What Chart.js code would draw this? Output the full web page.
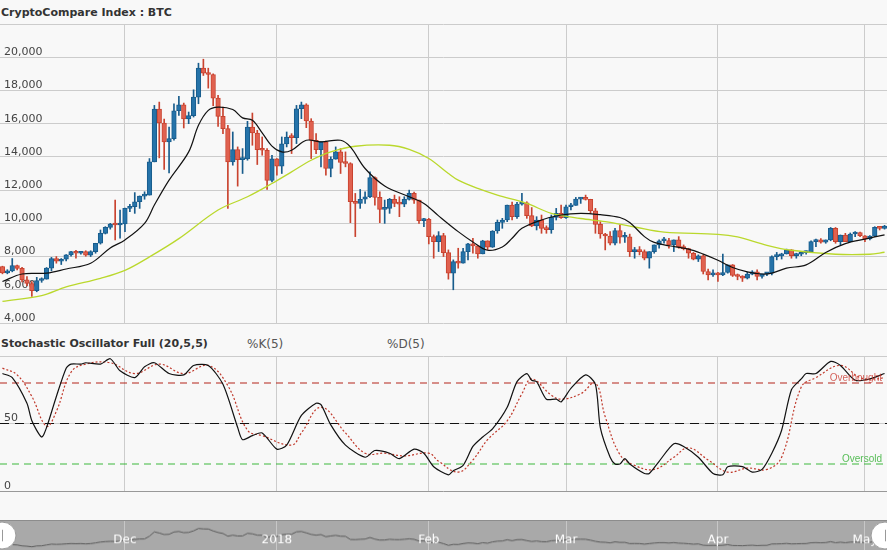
<!DOCTYPE html>
<html>
<head>
<meta charset="utf-8">
<script src="https://cdn.jsdelivr.net/npm/chart.js@4.4.1/dist/chart.umd.min.js"></script>
<style>
  html, body { margin: 0; padding: 0; }
  body { width: 887px; height: 550px; overflow: hidden; background: #f8f8f8; position: relative;
         font-family: 'DejaVu Sans', Verdana, sans-serif; }
  .title { position: absolute; left: 1px; font-size: 11px; font-weight: bold; color: #333; line-height: 14px; white-space: nowrap; }
  .legend { position: absolute; font-size: 12px; color: #555; line-height: 14px; white-space: nowrap; }
  canvas { position: absolute; left: 0; }
  #price { top: 20px; }
  #stoch { top: 350px; }
  #nav { top: 520px; border-top: 1px solid #8c8c8c; background: #a9a9a9; }
</style>
</head>
<body>
<div class="title" style="top:6px">CryptoCompare Index : BTC</div>
<div class="title" style="top:337px">Stochastic Oscillator Full (20,5,5)</div>
<div class="legend" style="top:337px; left:247px">%K(5)</div>
<div class="legend" style="top:337px; left:387px">%D(5)</div>
<canvas id="price" width="887" height="308"></canvas>
<canvas id="stoch" width="887" height="146"></canvas>
<canvas id="nav" width="887" height="30"></canvas>
<script>
// daily BTC candles, 2017-11-06 .. 2018-05-05 (day index 0..180)
const opens = [7400,7020,7140,7460,7290,6600,6380,5950,6560,6640,7300,7880,7720,7840,8100,8300,8200,8300,8080,8300,8800,9400,9760,9960,9900,
  9960,10900,11000,11300,11640,11700,13700,16880,16040,14900,15100,16780,17140,16280,16480,17600,19340,19040,18960,17540,16440,15700,13700,14440,13840,13880,15800,15440,14440,14400,12580,
  13880,13440,14780,15200,15160,16900,17140,16160,15000,14440,14900,13300,13860,14300,13660,13600,11300,11200,11450,11600,12760,11560,10840,10900,11440,11200,11160,11440,11800,11400,10160,
  10240,9200,8900,9260,8240,7000,7700,7600,8300,8760,8640,8160,8940,8560,9540,10060,10200,11100,10400,11160,11240,10460,9840,10200,9700,9620,10360,10600,
  10340,11000,11080,11460,11500,11440,10760,9940,9360,9240,8800,9560,9160,9180,8300,8340,8300,7900,8300,8700,8940,8960,8700,9000,8600,8480,8200,7840,8040,7100,6900,
  7000,6900,7040,7500,6860,6800,6700,6940,7080,6800,6960,7000,8000,8040,8160,8400,8060,8140,8240,8300,8900,9000,8860,9000,9700,8900,9300,8900,9360,9440,
  9250,9060,9230,9760,9700];
const highs = [7420,7210,7880,7480,7350,6800,6500,6750,6720,7340,7950,8000,7880,8120,8320,8380,8320,8350,8350,8800,9600,9800,10000,11400,10800,
  10920,11150,11850,11650,11900,13900,17100,17300,16280,15800,17200,17640,17240,16700,18040,19640,19880,19340,19000,17700,17000,15900,15500,14600,14500,16140,16640,15600,15200,14500,14100,
  13900,15200,15500,15400,17100,17300,17200,16300,15400,14900,14950,14000,14600,14500,14300,13650,11800,12040,11900,13100,12800,11900,11400,11500,11700,11600,11600,12000,11880,11400,10300,
  10300,9300,9500,9400,8400,7800,8500,8500,8800,9100,8650,8980,8950,9560,10200,10300,11100,11280,11260,11800,11300,10950,10400,10500,9850,10500,10900,11100,
  11100,11200,11560,11560,11700,11450,10900,10100,9400,9500,9700,9900,9450,9350,8550,8600,8400,8300,8700,9000,9150,9100,9000,9200,8700,8500,8250,8100,8100,7250,7200,
  7050,8150,7500,7520,6950,6850,7050,7150,7200,6950,7050,8050,8250,8200,8450,8420,8200,8250,8350,8950,9050,9080,9000,9750,9750,9300,9400,9420,9500,9480,
  9260,9260,9800,9800,9880];
const lows = [6960,6960,7080,7200,6480,6250,5600,5880,6450,6640,7140,7600,7520,7740,8030,7900,8150,8020,8000,8200,8750,9360,9650,9000,9100,
  9500,10700,10600,10900,11450,11700,13700,13940,13240,13040,15000,16500,15740,16000,16400,17200,18900,18140,17080,15840,15400,10900,13500,12240,13000,13800,14700,13540,14100,12040,12500,
  12900,13000,14600,14200,14800,16300,15760,13900,14200,13400,12900,12800,13860,13000,13400,10040,9200,10900,11200,11550,11100,10040,10000,10600,11000,10400,11000,11400,11200,10000,9800,
  8760,7900,8300,8000,6640,6000,7300,7600,7800,8200,7900,8160,8400,8550,9400,9700,10100,10200,10300,11100,10300,9800,9600,9400,9400,9400,10200,10300,
  10300,10800,11080,11200,11400,10600,9400,9100,8400,8700,8700,8800,8850,8000,7900,8100,7800,7300,8200,8500,8800,8500,8300,8500,8400,7900,7800,7700,6950,6600,6800,
  6500,6850,7000,6800,6600,6500,6650,6900,6600,6700,6850,6900,7800,7850,8150,7900,7900,8050,8150,8250,8600,8800,8800,8950,8800,8700,8900,8880,9200,9200,
  8900,9000,9200,9600,9650];
const closes = [7020,7140,7460,7290,6600,6380,5950,6560,6640,7300,7880,7720,7840,8100,8300,8200,8300,8080,8300,8800,9400,9760,9960,9900,9960,
  10900,11000,11300,11640,11700,13700,16880,16040,14900,15100,16780,17140,16280,16480,17600,19340,19040,18960,17540,16440,15700,13700,14440,13840,13880,15800,15440,14440,14400,12580,13880,
  13440,14780,15200,15160,16900,17140,16160,15000,14440,14900,13300,13860,14300,13660,13600,11300,11200,11450,11600,12760,11560,10840,10900,11440,11200,11160,11440,11800,11400,10160,10240,
  9200,8900,9260,8240,7000,7700,7600,8300,8760,8640,8160,8940,8560,9540,10060,10200,11100,10400,11160,11240,10460,9840,10200,9700,9620,10360,10600,10340,
  11000,11080,11460,11500,11440,10760,9940,9360,9240,8800,9560,9160,9180,8300,8340,8300,7900,8300,8700,8940,8960,8700,9000,8600,8480,8200,7840,8040,7100,6900,7000,
  6900,7040,7500,6860,6800,6700,6940,7080,6800,6960,7000,8000,8040,8160,8400,8060,8140,8240,8300,8900,9000,8860,9000,9700,8900,9300,8900,9360,9440,9250,
  9060,9230,9760,9700,9840];

// moving averages (day index, price)
const fastDays = [0,4,9,13,18,22,25,29,31,34,38,40,42,44,47,49,51,53,55,57,59,62,65,69,71,74,78,83,86,89,93,96,99,102,104,106,110,114,118,122,126,128,131,133,136,140,143,146,149,152,155,157,160,164,168,172,176,180];
const fastValues = [6500,6950,7000,7250,7600,8520,9000,10000,11100,12600,14300,15900,16800,17000,16850,16350,16200,15450,14650,14300,14400,15000,14900,15000,14600,13300,12250,11600,11200,10450,9500,8880,8380,8580,9100,9700,10200,10500,10600,10520,10350,10050,9200,8850,8650,8450,8150,7780,7340,7080,6950,7000,7300,7500,8250,8780,9050,9310];
const slowDays = [0,8,13,20,25,30,36,44,50,55,59,63,67,72,79,83,87,91,93,97,101,107,112,118,123,129,135,146,150,156,161,170,177,180];
const slowValues = [5300,5650,6170,6690,7170,7980,9080,10800,11600,12400,13100,13800,14300,14640,14700,14450,13900,13000,12600,12100,11700,11200,10600,10290,10100,9780,9470,9340,9180,8680,8380,8140,8140,8260];

// stochastic oscillator
const kDays = [0,2,5,6,8,9,11,13,14,16,17,20,22,24,27,29,31,34,37,39,42,45,48,49,51,53,56,58,61,64,65,67,70,74,76,79,81,84,86,88,91,92,94,96,98,100,103,105,107,108,109,111,113,114,116,119,121,122,124,125,126,127,128,131,132,134,137,139,142,145,147,148,151,153,155,157,159,161,163,164,166,169,171,174,177,180];
const kValues = [87,84,65,52,40,47,70,91,94,94,95,94,98,89,84,92,95,87,86,93,93,79,47,38,41,43,31,34,56,65,64,49,34,25,30,28,24,31,28,18,12,15,19,33,40,46,62,81,87,82,81,68,68,66,76,86,79,47,25,20,20,24,20,13,13,22,35,33,25,13,12,18,18,14,16,28,45,75,83,87,87,96,93,82,83,87];
const dDays = [0,3,6,9,11,14,17,22,27,32,37,42,46,50,53,59,61,65,70,74,78,82,87,89,93,96,99,103,106,108,112,114,118,121,123,126,129,133,137,140,144,148,152,156,159,163,166,171,175,178,180];
const dValues = [91,86,70,48,59,88,94,95,87,94,87,93,78,45,41,34,43,62,43,28,28,26,28,22,14,23,38,52,72,83,71,68,72,80,55,27,19,16,25,32,23,14,17,16,25,77,84,93,84,83,84];
const overbought = 80, midline = 50, oversold = 20;

const monthTicks = [25, 56, 87, 115, 146, 176];
const monthLabels = ['Dec', '2018', 'Feb', 'Mar', 'Apr', 'May'];
const xMin = -0.5, xMax = 180.5;

Chart.defaults.font.family = "'DejaVu Sans', Verdana, sans-serif";
Chart.defaults.font.size = 11;

const pts = (xs, ys) => xs.map((x, i) => ({ x: x, y: ys[i] }));
const dayIdx = closes.map((_, i) => i);
const isUp = i => closes[i] >= opens[i];
const monthGrid = scale => { scale.ticks = monthTicks.map(v => ({ value: v })); };
// keep axes from eating into the plot area
const flatAxis = scale => {
  scale.paddingLeft = scale.paddingRight = scale.paddingTop = scale.paddingBottom = 0;
  if (scale.isHorizontal()) scale.height = 0; else scale.width = 0;
};
const timeAxis = (gridColor) => ({
  type: 'linear', min: xMin, max: xMax, offset: false,
  afterBuildTicks: monthGrid,
  afterFit: flatAxis,
  grid: { color: gridColor, drawTicks: false, offset: false },
  border: { display: false },
  ticks: { display: false }
});

new Chart(document.getElementById('price'), {
  type: 'bar',
  data: {
    datasets: [
      { type: 'line', label: 'SMA fast', data: pts(fastDays, fastValues), borderColor: '#111', borderWidth: 1.2, pointRadius: 0, tension: 0.35, order: 0 },
      { type: 'line', label: 'SMA slow', data: pts(slowDays, slowValues), borderColor: '#bad82c', borderWidth: 1.3, pointRadius: 0, tension: 0.35, order: 1 },
      {
        label: 'body',
        data: dayIdx.map(i => ({ x: i, y: [opens[i], closes[i]] })),
        backgroundColor: c => isUp(c.dataIndex) ? '#2573a9' : '#e0614f',
        borderColor: c => isUp(c.dataIndex) ? '#185c8c' : '#c9432f',
        borderWidth: 1, borderSkipped: false, barThickness: 4.6, minBarLength: 2, grouped: false, order: 2
      },
      {
        label: 'wick',
        data: dayIdx.map(i => ({ x: i, y: [lows[i], highs[i]] })),
        backgroundColor: c => isUp(c.dataIndex) ? '#185c8c' : '#c9432f',
        borderWidth: 0, barThickness: 1, grouped: false, order: 3
      }
    ]
  },
  options: {
    responsive: false, animation: false,
    layout: { padding: { top: 4, bottom: 5, left: 0, right: 0 } },
    plugins: { legend: { display: false }, tooltip: { enabled: false } },
    scales: {
      x: timeAxis('#cccccc'),
      y: {
        min: 4000, max: 22000, beginAtZero: false,
        afterFit: flatAxis,
        grid: { color: '#cccccc', drawTicks: false },
        border: { display: false },
        ticks: { stepSize: 2000, mirror: true, padding: 4, labelOffset: -5, color: '#444',
          callback: v => v === 22000 ? '' : v.toLocaleString('en-US') }
      }
    }
  }
});

const levelLabels = {
  id: 'levelLabels',
  afterDatasetsDraw(chart) {
    const { ctx, chartArea, scales } = chart;
    ctx.save();
    ctx.font = "10px 'Liberation Sans', Arial, sans-serif";
    ctx.textAlign = 'right';
    ctx.textBaseline = 'middle';
    ctx.fillStyle = 'rgba(200,50,40,0.75)';
    ctx.fillText('Overbought', chartArea.right - 5, scales.y.getPixelForValue(overbought) - 5);
    ctx.fillStyle = 'rgba(60,180,60,0.85)';
    ctx.fillText('Oversold', chartArea.right - 5, scales.y.getPixelForValue(oversold) - 5);
    ctx.restore();
  }
};

new Chart(document.getElementById('stoch'), {
  type: 'line',
  data: {
    datasets: [
      { label: '%K(5)', data: pts(kDays, kValues), borderColor: '#111', borderWidth: 1.2, pointRadius: 0, tension: 0.25 },
      { label: '%D(5)', data: pts(dDays, dValues), borderColor: '#c0392b', borderWidth: 1.2, borderDash: [2, 2], pointRadius: 0, tension: 0.4 },
      { label: 'Overbought', data: pts([xMin, xMax], [overbought, overbought]), borderColor: '#b3241a', borderWidth: 1.2, borderDash: [7, 5], pointRadius: 0 },
      { label: 'Midline', data: pts([xMin, xMax], [midline, midline]), borderColor: '#111', borderWidth: 1.2, borderDash: [9, 6], pointRadius: 0 },
      { label: 'Oversold', data: pts([xMin, xMax], [oversold, oversold]), borderColor: '#3cb83c', borderWidth: 1.2, borderDash: [7, 5], pointRadius: 0 }
    ]
  },
  options: {
    responsive: false, animation: false,
    layout: { padding: { top: 6, bottom: 5, left: 0, right: 0 } },
    plugins: { legend: { display: false }, tooltip: { enabled: false } },
    scales: {
      x: timeAxis('#cccccc'),
      y: {
        min: 0, max: 100,
        afterFit: flatAxis,
        grid: { color: c => c.tick && c.tick.value === 0 ? '#999999' : '#cccccc', drawTicks: false },
        border: { display: false },
        ticks: { stepSize: 50, mirror: true, padding: 4, labelOffset: -5, color: '#444',
          callback: v => v === 100 ? '' : String(v) }
      }
    }
  },
  plugins: [levelLabels]
});

const navDecor = {
  id: 'navDecor',
  afterDraw(chart) {
    const { ctx, chartArea, scales } = chart;
    ctx.save();
    ctx.fillStyle = '#ffffff';
    ctx.font = "12px 'DejaVu Sans', Verdana, sans-serif";
    ctx.textAlign = 'center';
    ctx.textBaseline = 'middle';
    monthTicks.forEach((v, i) => ctx.fillText(monthLabels[i], scales.x.getPixelForValue(v), 20));
    const cy = 15;
    [chartArea.left + 2, chartArea.right - 2].forEach(cx => {
      ctx.beginPath();
      ctx.arc(cx, cy, 14, 0, Math.PI * 2);
      ctx.fillStyle = '#ffffff';
      ctx.fill();
      ctx.strokeStyle = '#999';
      ctx.lineWidth = 1;
      ctx.stroke();
      ctx.beginPath();
      ctx.moveTo(cx + 0.5, cy - 6);
      ctx.lineTo(cx + 0.5, cy + 6);
      ctx.stroke();
    });
    ctx.restore();
  }
};

new Chart(document.getElementById('nav'), {
  type: 'line',
  data: {
    datasets: [
      { label: 'navigator', data: pts(dayIdx, closes), borderColor: '#5a5a5a', borderWidth: 1, pointRadius: 0, tension: 0 }
    ]
  },
  options: {
    responsive: false, animation: false,
    layout: { padding: 0 },
    plugins: { legend: { display: false }, tooltip: { enabled: false } },
    scales: {
      x: timeAxis('rgba(255,255,255,0.35)'),
      y: { min: 3600, max: 24800, display: false, afterFit: flatAxis }
    }
  },
  plugins: [navDecor]
});
</script>
</body>
</html>
